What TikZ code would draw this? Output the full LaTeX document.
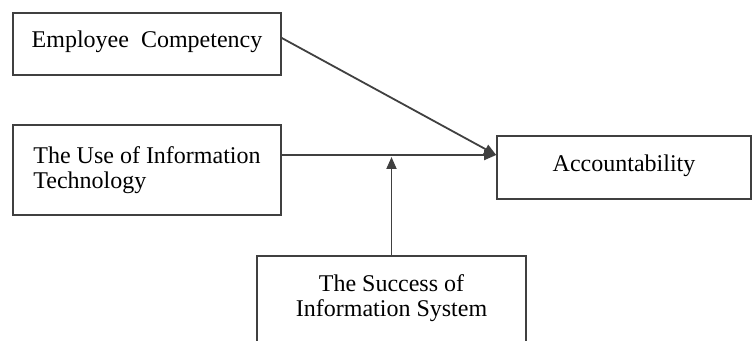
\documentclass[tikz,border=0pt]{standalone}
\usepackage{fontspec}
\setmainfont{Liberation Serif}
\usetikzlibrary{arrows.meta}
\usetikzlibrary{positioning}
\tikzset{box/.style={draw=black!75, line width=0.8pt, minimum width=134pt, font=\fontsize{12}{12.5}\selectfont},
  link/.style={draw=black!75, line width=0.9pt, -{Triangle[length=6pt,width=5pt]}}}

\begin{document}
\begin{tikzpicture}[x=0.5pt,y=-0.5pt]
\useasboundingbox (0,0) rectangle (753,341);
\node[box, minimum height=31pt, text depth=5pt] (emp) at (147,44) {Employee\ \ Competency};
\node[box, minimum height=45pt, align=left] (use) at (147,170) {The Use of Information\\Technology};
\node[box, minimum width=127pt, minimum height=31.5pt, text depth=4pt] (acc) at (624,167.5) {Accountability};
\node[box, minimum width=134.5pt, minimum height=60pt, text depth=20pt, anchor=north, align=center] (suc) at (391.5,255) {The Success of\\Information System};
% where the arrows meet
\coordinate (hit) at ([yshift=6.25pt]acc.west);
\draw[link] ([yshift=3pt]emp.east) -- (hit);
\draw[link] (use.east |- hit) -- (hit);
\draw[link] (suc.north) -- ([yshift=-1pt]suc.north |- hit);
\end{tikzpicture}
\end{document}
